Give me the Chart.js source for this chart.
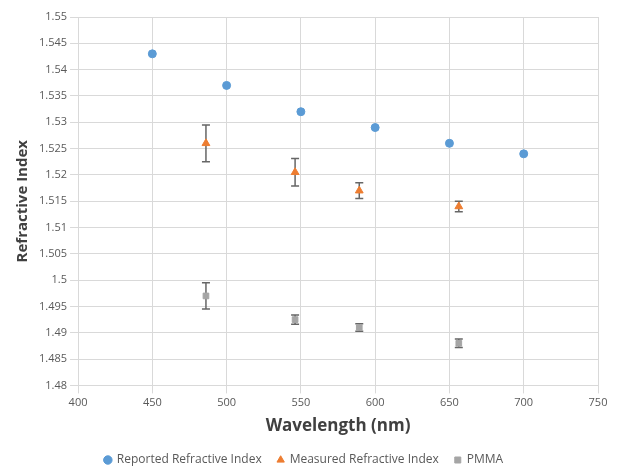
<!DOCTYPE html>
<html>
<head>
<meta charset="utf-8">
<script src="https://cdn.jsdelivr.net/npm/chart.js@4/dist/chart.umd.min.js"></script>
<style>
  html, body { margin: 0; padding: 0; background: #fff; }
  #wrap { width: 621px; height: 476px; }
</style>
</head>
<body>
<div id="wrap"><canvas id="chart"></canvas></div>
<script>
// reported values
const reportedX = [450, 500, 550, 600, 650, 700]
const reportedY = [1.543, 1.537, 1.532, 1.529, 1.526, 1.524]

// measured (with error)
const measuredX = [486.1, 546.1, 589.3, 656.3]
const measuredY = [1.526, 1.5205, 1.517, 1.514]
const measuredErr = [0.0035, 0.0026, 0.0015, 0.001]

// PMMA
const pmmaX = [486.1, 546.1, 589.3, 656.3]
const pmmaY = [1.497, 1.4925, 1.491, 1.488]
const pmmaErr = [0.0025, 0.0009, 0.0007, 0.0008]

const toPoints = (xs, ys) => xs.map((x, i) => ({ x: x, y: ys[i] }))

// error bars go under the markers, positioned with the chart's scales
const errorBars = {
  id: 'errorBars',
  beforeDatasetsDraw(chart) {
    const c = chart.ctx
    const xs = chart.scales.x
    const ys = chart.scales.y
    const sets = [[measuredX, measuredY, measuredErr], [pmmaX, pmmaY, pmmaErr]]
    c.save()
    c.strokeStyle = '#666666'
    c.lineWidth = 1.5
    sets.forEach(s => {
      s[0].forEach((x, i) => {
        const px = xs.getPixelForValue(x)
        const top = ys.getPixelForValue(s[1][i] + s[2][i])
        const bot = ys.getPixelForValue(s[1][i] - s[2][i])
        c.beginPath()
        c.moveTo(px, top); c.lineTo(px, bot)
        c.moveTo(px - 4, top); c.lineTo(px + 4, top)
        c.moveTo(px - 4, bot); c.lineTo(px + 4, bot)
        c.stroke()
      })
    })
    c.restore()
  }
}

const ctx = document.getElementById('chart').getContext('2d')

const myChart = new Chart(ctx, {
  type: 'scatter',
  data: {
    datasets: [{
      label: 'Reported Refractive Index',
      data: toPoints(reportedX, reportedY),
      backgroundColor: '#5B9BD5',
      borderColor: '#5B9BD5',
      pointStyle: 'circle',
      pointRadius: 4
    },
    {
      label: 'Measured Refractive Index',
      data: toPoints(measuredX, measuredY),
      backgroundColor: '#ED7D31',
      borderColor: '#ED7D31',
      pointStyle: 'triangle',
      pointRadius: 4.5
    },
    {
      label: 'PMMA',
      data: toPoints(pmmaX, pmmaY),
      backgroundColor: '#A5A5A5',
      borderColor: '#A5A5A5',
      pointStyle: 'rect',
      pointRadius: 4
    }]
  },
  options: {
    responsive: true,
    maintainAspectRatio: false,
    animation: false,
    layout: { padding: { top: 17, right: 23, left: 10, bottom: 0 } },
    plugins: {
      tooltip: { enabled: false },
      legend: {
        position: 'bottom',
        labels: {
          usePointStyle: true,
          boxWidth: 6,
          boxHeight: 6,
          padding: 16,
          color: '#595959',
          font: { family: 'Open Sans', size: 12 }
        }
      }
    },
    scales: {
      x: {
        type: 'linear',
        min: 400,
        max: 750,
        ticks: { stepSize: 50, color: '#595959', font: { family: 'Open Sans', size: 11 } },
        grid: { color: '#d9d9d9', lineWidth: 1 },
        border: { display: false },
        title: {
          display: true,
          text: 'Wavelength (nm)',
          color: '#404040',
          font: { family: 'Open Sans', size: 17, weight: 'bold' },
          padding: { top: 3, bottom: 2 }
        }
      },
      y: {
        min: 1.48,
        max: 1.55,
        ticks: {
          stepSize: 0.005,
          color: '#595959',
          font: { family: 'Open Sans', size: 11 },
          callback: v => String(parseFloat(v.toFixed(3)))
        },
        grid: { color: '#d9d9d9', lineWidth: 1 },
        border: { display: false },
        title: {
          display: true,
          text: 'Refractive Index',
          color: '#404040',
          font: { family: 'Open Sans', size: 15, weight: 'bold' },
          padding: { bottom: 4 }
        }
      }
    }
  },
  plugins: [errorBars]
})
</script>
</body>
</html>
